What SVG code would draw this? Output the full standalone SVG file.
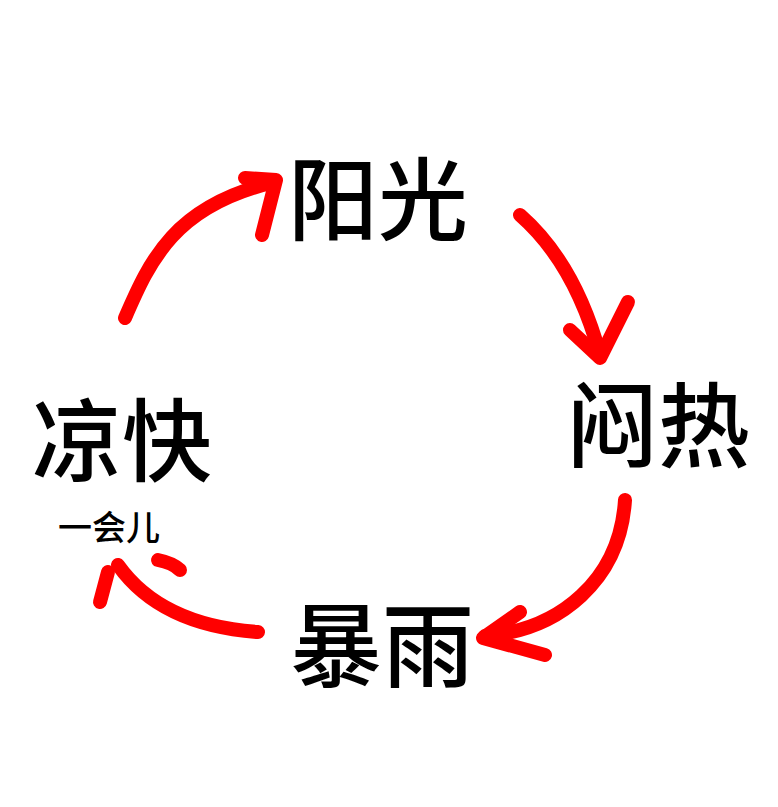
<svg xmlns="http://www.w3.org/2000/svg" width="778" height="807" viewBox="0 0 778 807">
<style>
.t{font-family:"Noto Sans CJK SC",sans-serif;font-weight:500;fill:#000}
.a{fill:none;stroke:#f00;stroke-width:14;stroke-linecap:round;stroke-linejoin:round}
</style>
<rect width="778" height="807" fill="#fff"/>
<g id="yangguang"><text class="t" x="288" y="233" font-size="90">阳光</text></g>
<g id="menre"><text class="t" x="566" y="460" font-size="92">闷热</text></g>
<g id="baoyu"><text class="t" x="290" y="680" font-size="92">暴雨</text></g>
<g id="liangkuai"><text class="t" x="32" y="474" font-size="90">凉快</text><text class="t" x="58" y="540" font-size="34" font-weight="400">一会儿</text></g>
<g id="connectors">
<path class="a" d="M125,318 C150,260 175,205 275,182"/>
<path class="a" d="M245,178 L276,180 L262,235"/>
<path class="a" d="M520,215 C560,250 585,300 600,355"/>
<path class="a" d="M570,330 L600,358 L628,302"/>
<path class="a" d="M625,500 C620,580 560,630 485,636"/>
<path class="a" d="M520,612 L483,638 L545,655"/>
<path class="a" d="M258,632 C200,628 150,610 118,565"/>
<path class="a" d="M108,572 L100,602"/>
<path class="a" d="M158,560 C168,562 175,565 180,570"/>
</g>
</svg>
